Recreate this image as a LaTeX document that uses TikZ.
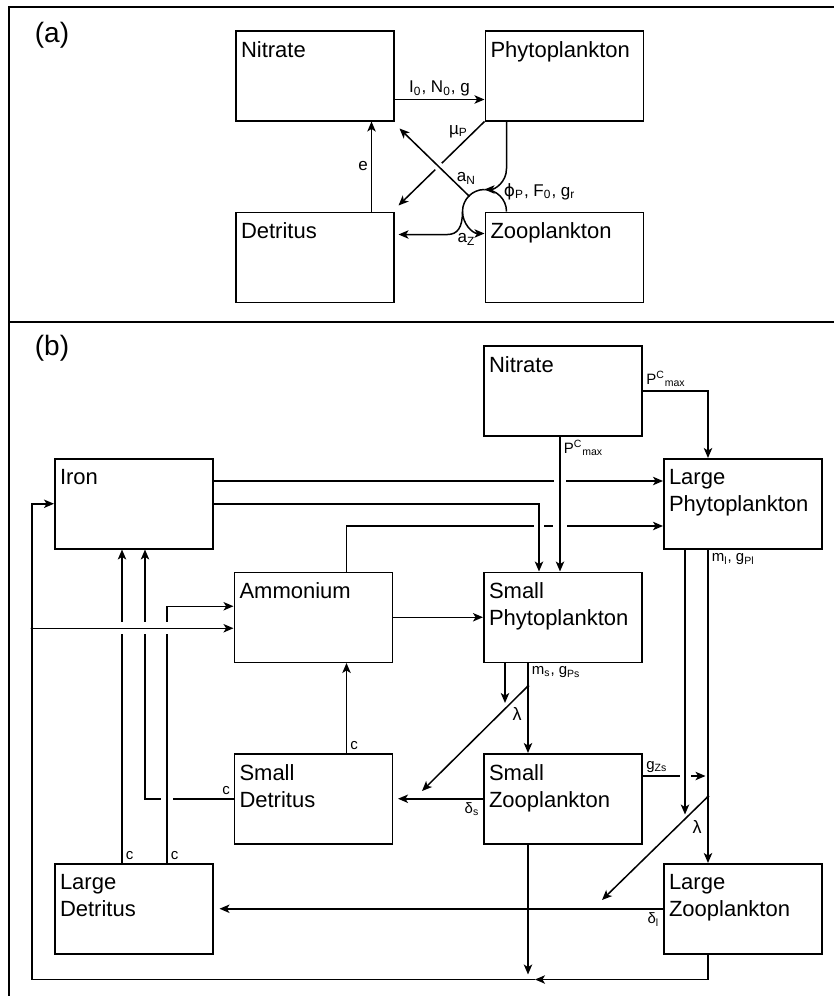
\documentclass[tikz,border=0pt]{standalone}
\usepackage{fontspec}
\setmainfont{Liberation Sans}
\newfontfamily\greekfont{DejaVu Sans}
\usetikzlibrary{positioning, calc, arrows.meta}

\tikzset{
  link/.style={line width=0.75pt},
  flow/.style={link, -{Stealth[length=5pt, width=4.2pt, inset=1.3pt]}},
  gapcut/.style={draw=white, line width=4pt},
  pooltext/.style={anchor=north west, align=left, inner xsep=2.8pt, inner ysep=5.5pt,
    font=\fontsize{11}{13.5}\selectfont},
  pool/.style={draw, line width=0.75pt, minimum width=79pt, minimum height=45pt,
    inner sep=0pt, anchor=north west, label distance=0pt,
    label={[pooltext]north west:#1}},
  lab/.style={inner sep=1.5pt, font=\fontsize{8.5}{10}\selectfont},
  labb/.style={inner sep=1.5pt, font=\fontsize{7.5}{9}\selectfont},
  lam/.style={inner sep=0pt, font=\fontsize{9}{10}\selectfont},
  panel/.style={font=\fontsize{14}{16}\selectfont},
  framing/.style={line width=1pt}
}

\begin{document}
\begin{tikzpicture}[x=0.5pt, y=-0.5pt]
  \useasboundingbox (0,0) rectangle (834,996);

  \draw[framing] (834,7) -- (9,7) -- (9,996);
  \draw[framing] (9,322) -- (834,322);
  \node[panel] (tagA) at (52,35) {(a)};
  \node[panel] (tagB) at (52,348) {(b)};

% PANEL (a)

  \node[pool={Nitrate}] (nitA) at (235,30) {};
  \node[pool={Phytoplankton}, right=45pt of nitA] (phyA) {};
  \node[pool={Detritus}, below=45pt of nitA] (detA) {};
  \node[pool={Zooplankton}, right=45pt of detA] (zooA) {};

  \draw[flow] ($(nitA.south east)+(0,-22)$) -- ($(phyA.south west)+(0,-22)$)
    node[midway, above, lab] (lblI) {I\textsubscript{0}, N\textsubscript{0}, g};
  \draw[flow] ($(detA.north east)+(-23,0)$) -- ($(nitA.south east)+(-23,0)$)
    node[midway, left, lab] (lblE) {e};

  \coordinate (ring) at (zooA.north west);
  \coordinate (muEnd) at ($(detA.north east)+(4,-6)$);
  \coordinate (aNStart) at ($(ring)+(-15.6,-15.6)$);
  \coordinate (aNEnd) at ($(nitA.south east)+(5,7)$);
  \draw[flow] (phyA.south west) -- (muEnd);
  \draw[gapcut, line width=4.5pt] ($(aNStart)!0.3!(aNEnd)$) -- ($(aNStart)!0.6!(aNEnd)$);
  \draw[flow] (aNStart) -- (aNEnd);
  \fill (aNStart) circle (1.3);

  \draw[flow] ($(phyA.south west)+(22,0)$) -- ++(0,47)
    .. controls +(0,14) and +(10,0) .. ($(ring)+(0,-22)$);
  \draw[link] ($(ring)+(22,0)$) arc[start angle=0, end angle=-90, radius=22];
  \draw[flow] ($(ring)+(0,-22)$) arc[start angle=-90, end angle=-270, radius=22];
  \draw[flow] ($(ring)+(-22,0)$) .. controls +(0,16) and +(10,0) .. ($(detA.north east)+(53,23)$)
    -- ($(detA.north east)+(4,23)$);

  \node[lab] (lblMu) at ($(phyA.south west)+(-26,10)$) {µ\textsubscript{P}};
  \node[lab] (lblAN) at ($(ring)+(-18,-33)$) {a\textsubscript{N}};
  \node[lab, anchor=west] (lblPhi) at ($(ring)+(16,-20)$)
    {{\greekfont ϕ}\textsubscript{P}, F\textsubscript{0}, g\textsubscript{r}};
  \node[lab] (lblAZ) at ($(ring)+(-18,28)$) {a\textsubscript{Z}};

% PANEL (b)

  \node[pool={Nitrate}] (nitB) at (483,345) {};
  \node[pool={Large\\Phytoplankton}] (lphy) at (663,458) {};
  \node[pool={Iron}] (iron) at (54,458) {};
  \node[pool={Small\\Phytoplankton}, below=67.5pt of nitB] (sphy) {};
  \node[pool={Ammonium}, left=45pt of sphy] (amm) {};
  \node[pool={Small\\Detritus}, below=45pt of amm] (sdet) {};
  \node[pool={Small\\Zooplankton}, below=45pt of sphy] (szoo) {};
  \node[pool={Large\\Detritus}] (ldet) at (54,863) {};
  \node[pool={Large\\Zooplankton}] (lzoo) at (663,863) {};

  \coordinate (nitDown) at ($(nitB.south west)+(77,0)$);
  \coordinate (ironSplit) at ($(sphy.north west)+(56,0)$);
  \coordinate (ironHi) at ($(iron.north east)+(0,23)$);
  \coordinate (lphyHi) at ($(lphy.north west)+(0,23)$);
  \coordinate (lphyLo) at ($(lphy.north west)+(0,68)$);

% nutrients to phytoplankton
  \draw[flow] (ironHi) -- (lphyHi);
  \draw[flow] ($(amm.north west)+(113,0)$) |- (lphyLo);
  \draw[gapcut] ($(nitDown |- lphyHi)+(-6,0)$) -- +(12,0);
  \draw[gapcut] ($(nitDown |- lphyLo)+(-7,0)$) -- +(14,0);
  \draw[gapcut] ($(ironSplit |- lphyLo)+(-5,0)$) -- +(10,0);
  \draw[flow] (nitDown) -- (nitDown |- sphy.north)
    node[pos=0, below right, labb] (lblPs) {P\textsuperscript{C}\textsubscript{max}};
  \draw[flow] (iron.east) -| (ironSplit);
  \draw[flow] (nitB.east) -| ($(lphy.north west)+(45,0)$)
    node[pos=0, above right, labb] (lblPl) {P\textsuperscript{C}\textsubscript{max}};
  \draw[flow] (amm.east) -- (amm.east -| sphy.west);
  \draw[flow] ($(sdet.north west)+(113,0)$) -- ($(amm.south west)+(113,0)$)
    node[pos=0, above right, labb] (lblC1) {c};

% detritus remineralisation
  \coordinate (ammHi) at ($(amm.west)+(0,-11)$);
  \coordinate (ammLo) at ($(amm.west)+(0,11)$);
  \coordinate (bus) at ($(iron.west)+(-22,0)$);
  \coordinate (ldetA) at ($(ldet.north west)+(68,0)$);
  \coordinate (ldetB) at ($(ldet.north west)+(113,0)$);
  \coordinate (sdetUp) at ($(iron.south west)+(91,0)$);
  \draw[flow] (sdet.west) -| (sdetUp)
    node[pos=0, above left, labb] (lblC2) {c};
  \draw[gapcut] ($(sdet.west -| ldetB)+(-6,0)$) -- +(12,0);
  \draw[flow] (ldetB) |- (ammHi)
    node[pos=0, above right, labb] (lblC3) {c};
  \draw[flow] (ldetA) -- (ldetA |- iron.south)
    node[pos=0, above right, labb] (lblC4) {c};
  \draw[gapcut] ($(ldetA |- ammLo)+(0,-6)$) -- +(0,12);
  \draw[gapcut] ($(sdetUp |- ammLo)+(0,-6)$) -- +(0,12);
  \draw[gapcut] ($(ldetB |- ammLo)+(0,-6)$) -- +(0,12);
  \draw[flow] (bus |- ammLo) -- (ammLo);
  \fill (bus |- ammLo) circle (1.5);

% small phytoplankton losses
  \coordinate (sphyA) at ($(sphy.south west)+(22,0)$);
  \coordinate (sphyB) at ($(sphy.south west)+(45,0)$);
  \coordinate (lamS) at ($(sphyB)+(0,23)$);
  \coordinate (lamSEnd) at ($(sdet.north east)+(29,38)$);
  \draw[flow] (sphyA) -- ++(0,40);
  \draw[flow] (sphyB) -- (sphyB |- szoo.north)
    node[pos=0, below right, labb] (lblMs) {m\textsubscript{s}, g\textsubscript{Ps}};
  \draw[flow] (lamS) -- (lamSEnd);
  \fill (lamS) circle (1.5);
  \node[lam] (lblLamS) at ($(lamS)+(-11,28)$) {λ};
  \draw[flow, shorten >=2.5pt] (szoo.west) -- (sdet.east)
    node[pos=0, below left, labb] (lblDs) {δ\textsubscript{s}};

% large phytoplankton losses
  \coordinate (lphyA) at ($(lphy.south west)+(22,0)$);
  \coordinate (lphyB) at ($(lphy.south west)+(45,0)$);
  \coordinate (szooG) at ($(szoo.north east)+(0,23)$);
  \coordinate (lamL) at ($(lphyB)+(0,247)$);
  \coordinate (lamLEnd) at ($(lzoo.north west)+(-61,37)$);
  \draw[flow] (szooG) -- ($(szooG)+(63,0)$)
    node[pos=0, above right, labb] (lblGz) {g\textsubscript{Zs}};
  \draw[gapcut] ($(lphyA |- szooG)+(-5,0)$) -- +(11,0);
  \draw[flow] (lphyA) -- ++(0,265);
  \draw[flow] (lphyB) -- (lphyB |- lzoo.north)
    node[pos=0, below right, labb] (lblMl) {m\textsubscript{l}, g\textsubscript{Pl}};
  \draw[flow] (lamL) -- (lamLEnd);
  \fill (lamL) circle (1.5);
  \node[lam] (lblLamL) at ($(lamL)+(-11,30)$) {λ};
  \draw[flow, shorten >=3pt] (lzoo.west) -- (lzoo.west -| ldet.east)
    node[pos=0, below left, labb] (lblDl) {δ\textsubscript{l}};

% iron recycling
  \coordinate (szooS) at ($(szoo.south west)+(45,0)$);
  \coordinate (bot) at ($(szoo.south west)+(52,135)$);
  \draw[flow, shorten >=2.5pt] (szooS) -- (szooS |- bot);
  \draw[flow] ($(lzoo.south west)+(45,0)$) |- (bot);
  \draw[flow] (bot) -| (bus) -- (iron.west);

\end{tikzpicture}
\end{document}
